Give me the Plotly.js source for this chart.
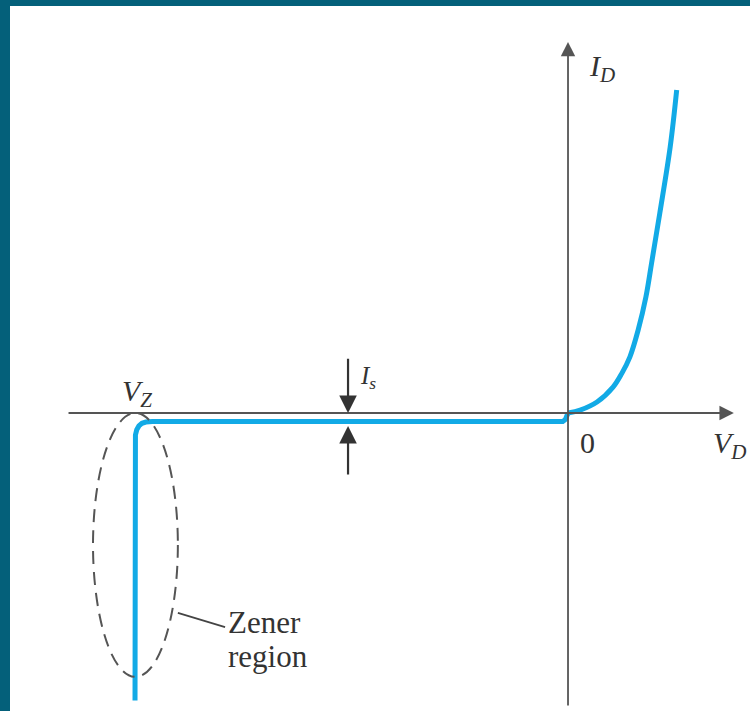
<!DOCTYPE html>
<html>
<head>
<meta charset="utf-8">
<script src="https://cdn.plot.ly/plotly-3.0.1.min.js"></script>
<style>
  html, body { margin: 0; padding: 0; background: #04607a; }
  #chart { width: 750px; height: 711px; }
</style>
</head>
<body>
<div id="chart"></div>
<script>
// --- DATA (V in volts, I in mA, schematic scale) ---
// Zener branch and reverse saturation plateau
const reverseV = [-10.0, -10.0, -9.99, -9.96, -9.91, -9.84, -9.75, -9.6, -0.12, -0.06, -0.02, 0];
const reverseI = [-8.9, -0.9, -0.68, -0.52, -0.40, -0.32, -0.28, -0.26, -0.26, -0.2, -0.08, 0];
// forward conduction
const forwardV = [0, 0.28, 0.67, 1.04, 1.24, 1.43, 1.62, 1.80, 1.93, 2.12, 2.36, 2.51];
const forwardI = [0, 0.09, 0.34, 0.80, 1.22, 1.74, 2.57, 3.60, 4.64, 6.19, 8.24, 10.0];

const zenerVoltage = -10.0;
const saturationI = -0.26;

// --- STYLE ---
const CURVE_COLOR = '#12aae6';
const AXIS_COLOR = '#555555';
const TEXT_FONT = { family: '"Liberation Serif", "Times New Roman", Times, serif', size: 30, color: '#333333' };

const reverseTrace = {
    x: reverseV,
    y: reverseI,
    mode: 'lines',
    type: 'scatter',
    hoverinfo: 'skip',
    line: { color: CURVE_COLOR, width: 5 }
};

const forwardTrace = {
    x: forwardV,
    y: forwardI,
    mode: 'lines',
    type: 'scatter',
    hoverinfo: 'skip',
    line: { color: CURVE_COLOR, width: 5, shape: 'spline', smoothing: 1 }
};

function arrow(x, y, ax, ay, color, width) {
    return {
        x: x, y: y, ax: ax, ay: ay,
        xref: 'x', yref: 'y', axref: 'x', ayref: 'y',
        text: '', showarrow: true,
        arrowhead: 2, arrowsize: 1.6, arrowwidth: width, arrowcolor: color,
        standoff: 0, startstandoff: 0
    };
}

function label(text, x, y, xanchor, size) {
    const font = Object.assign({}, TEXT_FONT);
    if (size) font.size = size;
    return {
        x: x, y: y, xref: 'x', yref: 'y',
        text: text, showarrow: false,
        xanchor: xanchor, yanchor: 'middle',
        font: font
    };
}

const annotations = [
    // axes
    arrow(3.83, 0, -11.57, 0, AXIS_COLOR, 1.8),
    arrow(0, 11.49, 0, -9.1, AXIS_COLOR, 1.8),
    // I_s markers
    arrow(-5.08, 0, -5.08, 1.73, '#333333', 2.2),
    arrow(-5.08, saturationI - 0.14, -5.08, -1.95, '#333333', 2.2),
    // texts
    label('<i>V<sub>Z</sub></i>', zenerVoltage + 0.05, 0.62, 'center'),
    label('<i>I<sub>D</sub></i>', 0.44, 10.68, 'left'),
    label('0', 0.46, -0.92, 'center'),
    label('<i>V<sub>D</sub></i>', 3.3, -1.0, 'left'),
    label('<i>I<sub>s</sub></i>', -4.84, 1.1, 'left', 25),
    label('Zener', -7.9, -6.5, 'left', 31),
    label('region', -7.9, -7.55, 'left', 31)
];

const shapes = [
    // dashed ellipse around the Zener region
    {
        type: 'circle', xref: 'x', yref: 'y',
        x0: -10.97, x1: -9.01, y0: -8.17, y1: 0,
        line: { color: AXIS_COLOR, width: 2, dash: '13px,8px' }
    },
    // leader line to "Zener region"
    {
        type: 'line', xref: 'x', yref: 'y',
        x0: -9.01, y0: -6.19, x1: -7.92, y1: -6.63,
        line: { color: '#444444', width: 1.8 }
    }
];

const layout = {
    width: 750,
    height: 711,
    margin: { l: 10, r: 0, t: 6, b: 0 },
    paper_bgcolor: '#04607a',
    plot_bgcolor: '#ffffff',
    showlegend: false,
    xaxis: { range: [-12.887, 4.203], visible: false, fixedrange: true },
    yaxis: { range: [-9.226, 12.601], visible: false, fixedrange: true },
    annotations: annotations,
    shapes: shapes
};

Plotly.newPlot('chart', [reverseTrace, forwardTrace], layout, { staticPlot: true });
</script>
</body>
</html>
